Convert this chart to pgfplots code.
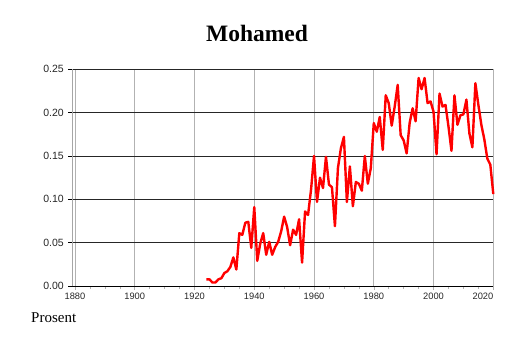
\documentclass[border=0pt]{standalone}
\usepackage{pgfplots}
\pgfplotsset{compat=1.18}
\usepackage{fontspec}
\setmainfont{Liberation Serif}
\newfontfamily\arial{Liberation Sans}
\begin{document}
\begin{tikzpicture}
\path[use as bounding box] (0,0) rectangle (514pt,343pt);
\node[anchor=base,font=\fontsize{23.5}{25}\selectfont\bfseries] at (257pt,301pt) {Mohamed};
\node[anchor=base west,inner sep=0pt,font=\fontsize{15}{17}\selectfont] at (31pt,20.5pt) {Prosent};
\begin{axis}[
  at={(72.3pt,57pt)}, anchor=south west,
  scale only axis, width=421pt, height=216.7pt,
  xmin=1879.1, xmax=2020, ymin=0, ymax=0.25,
  axis x line*=bottom, axis y line*=left,
  x axis line style={black, line width=0.9pt, -},
  y axis line style={gray!70, line width=0.6pt, -},
  xtick={1880,1900,...,2020},
  xticklabels={1880,1900,1920,1940,1960,1980,2000,\makebox[0pt][r]{2020}},
  minor xtick={1885,1890,...,2015},
  ytick={0,0.05,...,0.26},
  xmajorgrids, ymajorgrids,
  x grid style={gray!60, line width=0.6pt},
  y grid style={black!85, line width=0.6pt},
  tick align=outside,
  major tick length=4pt, minor tick length=3pt,
  every tick/.style={black, line width=0.5pt},
  xtick style={gray!60},
  x tick label style={font=\arial\fontsize{9.3}{10}\selectfont, text=black!85, yshift=1pt},
  y tick label style={font=\arial\fontsize{10.5}{12}\selectfont, text=black!85, xshift=-1pt},
  /pgf/number format/assume math mode=true,
  yticklabel={\pgfmathprintnumber[fixed, fixed zerofill, precision=2]{\tick}},
  clip=false,
]
\addplot[red, line width=2.4pt, line join=round, mark=none] table {
x y
1924 0.0077
1925 0.0077
1926 0.004
1927 0.004
1928 0.0077
1929 0.009
1930 0.015
1931 0.017
1932 0.022
1933 0.033
1934 0.019
1935 0.061
1936 0.059
1937 0.073
1938 0.074
1939 0.044
1940 0.091
1941 0.029
1942 0.049
1943 0.061
1944 0.036
1945 0.051
1946 0.036
1947 0.045
1948 0.051
1949 0.063
1950 0.080
1951 0.068
1952 0.047
1953 0.065
1954 0.059
1955 0.077
1956 0.027
1957 0.086
1958 0.082
1959 0.111
1960 0.150
1961 0.097
1962 0.125
1963 0.113
1964 0.149
1965 0.117
1966 0.114
1967 0.069
1968 0.136
1969 0.159
1970 0.172
1971 0.097
1972 0.138
1973 0.092
1974 0.120
1975 0.118
1976 0.110
1977 0.150
1978 0.118
1979 0.136
1980 0.188
1981 0.178
1982 0.195
1983 0.157
1984 0.220
1985 0.211
1986 0.185
1987 0.207
1988 0.232
1989 0.174
1990 0.168
1991 0.153
1992 0.188
1993 0.205
1994 0.190
1995 0.240
1996 0.227
1997 0.240
1998 0.211
1999 0.213
2000 0.201
2001 0.152
2002 0.222
2003 0.207
2004 0.209
2005 0.184
2006 0.156
2007 0.220
2008 0.186
2009 0.197
2010 0.198
2011 0.215
2012 0.176
2013 0.160
2014 0.234
2015 0.209
2016 0.186
2017 0.169
2018 0.147
2019 0.140
2020 0.106
};
\end{axis}
\end{tikzpicture}
\end{document}
